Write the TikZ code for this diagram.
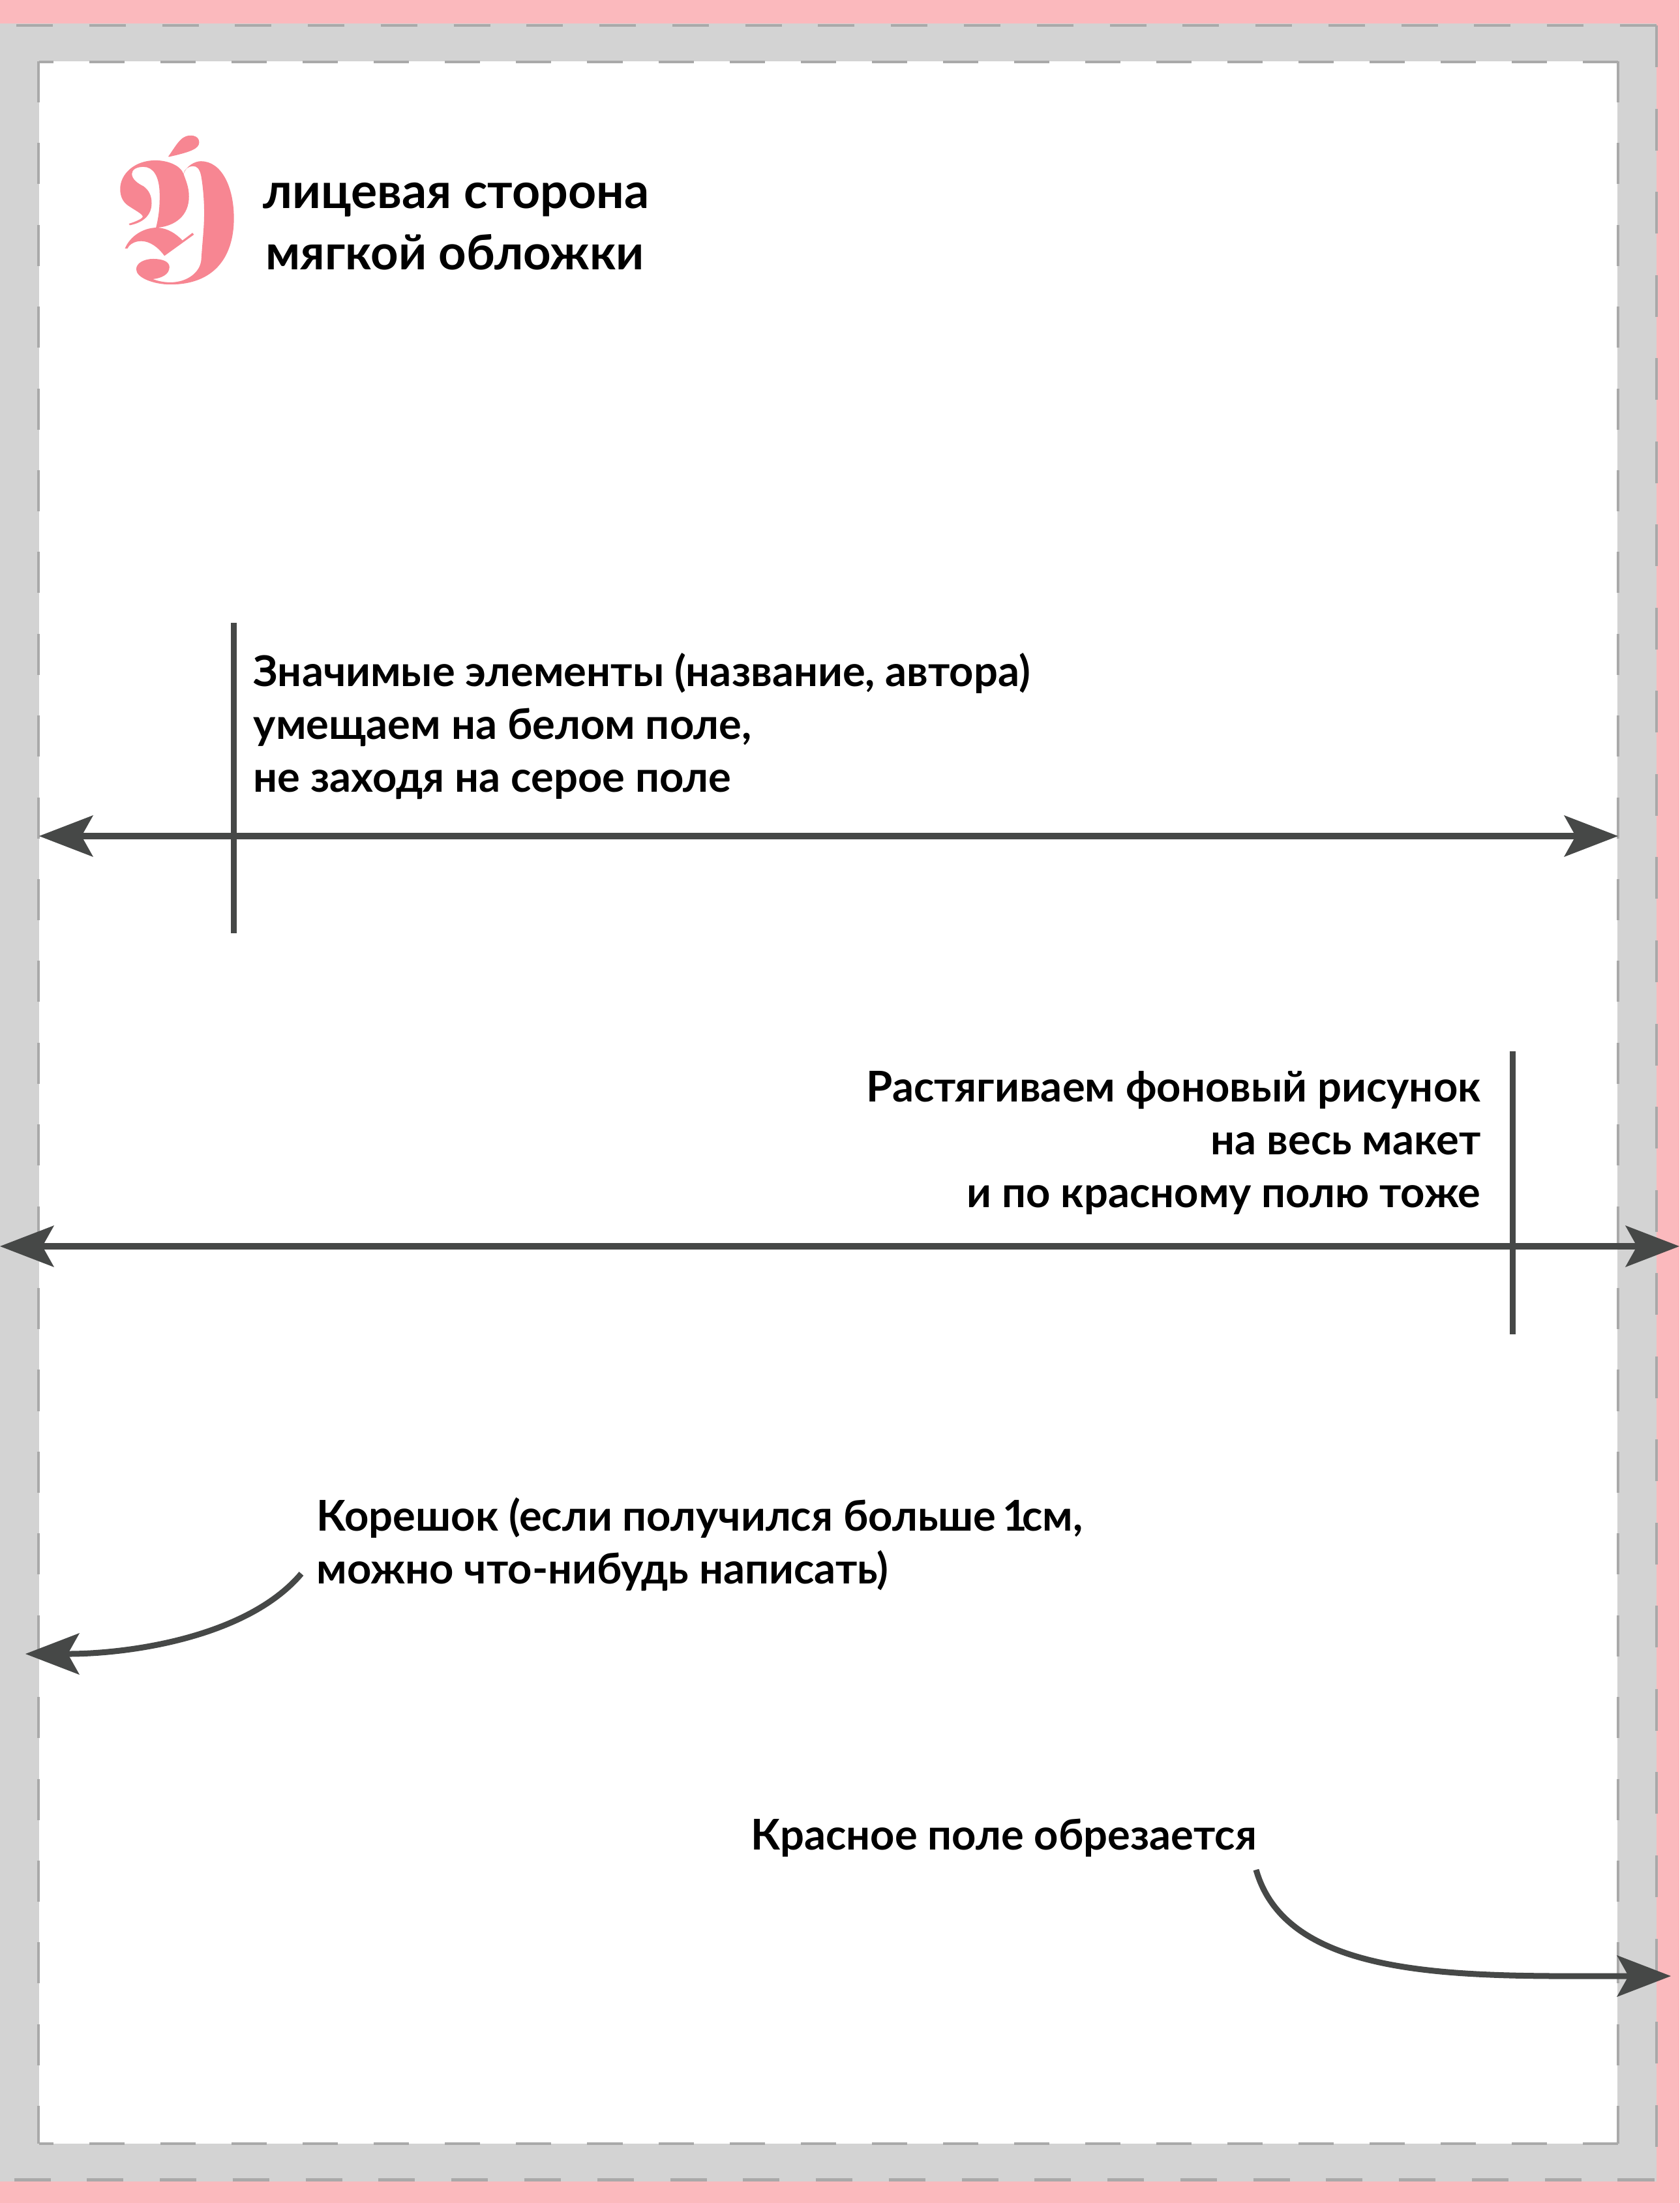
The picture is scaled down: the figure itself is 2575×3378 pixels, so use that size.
\documentclass[tikz,border=0pt]{standalone}
\usepackage{fontspec}
\setmainfont{Lato}
\usetikzlibrary{arrows.meta}
\definecolor{bleedpink}{HTML}{FBB9BD}
\definecolor{safegrey}{HTML}{D3D3D3}
\definecolor{dashgrey}{HTML}{A9A9A9}
\definecolor{inkdark}{HTML}{464847}
\definecolor{logopink}{HTML}{F78692}
\tikzset{
  guide/.style={draw=dashgrey,line width=0.042cm},
  vguide/.style={guide,dash pattern=on 0.63cm off 0.6233cm},
  hguidein/.style={guide,dash pattern=on 0.54cm off 0.55cm},
  hguideout/.style={guide,dash pattern=on 0.56cm off 0.557cm},
  vguideout/.style={guide,dash pattern=on 0.64cm off 0.6347cm},
  dimline/.style={draw=inkdark,line width=0.095cm},
  bigtip/.tip={Stealth[length=0.83cm,width=0.64cm,inset=0.18cm,sep=0pt,line width=0pt,fill=inkdark]},
  both/.style={dimline,bigtip-bigtip},
  oneway/.style={dimline,line width=0.09cm,-bigtip},
  tick/.style={draw=inkdark,line width=0.09cm},
  note/.style={inner sep=0pt,font=\fontsize{18.5}{18.5}\selectfont\bfseries,text=black,align=left},
  heading/.style={note,font=\fontsize{21.4}{21.4}\selectfont\bfseries},
  noter/.style={note,align=right},
}
\begin{document}
\begin{tikzpicture}[x=0.01cm,y=-0.01cm]
\useasboundingbox (0,0) rectangle (2575,3378);
\fill[bleedpink] (0,0) rectangle (2575,3378);
\fill[safegrey] (0,36) rectangle (2540,3345);
\fill[white] (60,94) rectangle (2480,3287);
% dashed guides
\draw[hguidein,dash phase=0.32cm] (60,95) -- (2481,95);
\draw[hguidein,dash phase=0.32cm] (60,3287) -- (2481,3287);
\draw[vguide] (59,94) -- (59,3287);
\draw[vguide] (2481,94) -- (2481,3287);
\draw[hguideout,dash phase=0.867cm] (0,39) -- (2540,39);
\draw[hguideout,dash phase=0.901cm] (0,3342.5) -- (2540,3342.5);
\draw[vguideout] (2539.7,39) -- (2539.7,3345);
% logo
\begin{scope}[shift={(140,170)},x=0.003333cm,y=-0.003333cm]
\fill[logopink] (355,210) .. controls (380,175) and (405,130) .. (430,120)
  .. controls (450,108) and (497,110) .. (497,145)
  .. controls (497,175) and (455,190) .. (357,212) -- cycle;
\fill[logopink] (425,290) .. controls (410,250) and (350,228) .. (295,228)
  .. controls (200,228) and (133,290) .. (133,360)
  .. controls (133,400) and (150,425) .. (175,440)
  .. controls (205,460) and (235,475) .. (237,487)
  .. controls (237,497) and (200,512) .. (173,520)
  -- (177,527)
  .. controls (240,515) and (278,480) .. (278,425)
  .. controls (278,390) and (265,365) .. (240,347)
  .. controls (215,335) and (187,315) .. (187,290)
  .. controls (187,270) and (210,258) .. (240,258)
  .. controls (285,258) and (315,300) .. (315,390)
  .. controls (315,450) and (310,490) .. (298,538)
  .. controls (240,540) and (180,575) .. (155,634)
  -- (167,634)
  .. controls (175,615) and (200,600) .. (230,600)
  .. controls (270,600) and (310,630) .. (337,668)
  -- (473,570) -- (466,562) -- (420,597)
  .. controls (390,565) and (350,540) .. (305,538)
  .. controls (390,530) and (450,480) .. (450,395)
  .. controls (450,350) and (435,320) .. (425,290)
  .. controls (440,250) and (480,232) .. (505,232)
  .. controls (600,232) and (657,350) .. (657,495)
  .. controls (657,680) and (560,800) .. (365,800)
  .. controls (290,800) and (207,770) .. (207,730)
  .. controls (207,700) and (245,682) .. (285,682)
  .. controls (330,682) and (360,695) .. (360,720)
  .. controls (360,755) and (320,772) .. (283,775)
  .. controls (310,785) and (335,790) .. (365,790)
  .. controls (440,790) and (505,745) .. (507,680)
  .. controls (512,600) and (520,540) .. (520,470)
  .. controls (520,400) and (512,330) .. (505,295)
  .. controls (498,265) and (485,255) .. (470,255)
  .. controls (445,255) and (428,270) .. (425,290) -- cycle;
\end{scope}
% texts
\node[heading,anchor=base west] (tA) at (403,319) {лицевая сторона};
\node[note,font=\fontsize{21.1}{21.1}\selectfont\bfseries,anchor=base west] (tB) at (407,413) {мягкой обложки};
\node[note,anchor=base west] (tC) at (388,1052) {Значимые элементы (название, автора)};
\node[note,anchor=base west] (tD) at (388,1133) {умещаем на белом поле,};
\node[note,anchor=base west] (tE) at (388,1214) {не заходя на серое поле};
\node[noter,anchor=base east] (tF) at (2271,1689) {Растягиваем фоновый рисунок};
\node[noter,anchor=base east] (tG) at (2271,1770) {на весь макет};
\node[noter,anchor=base east] (tH) at (2271,1851) {и по красному полю тоже};
\node[note,anchor=base west] (tI) at (485,2347) {Корешок (если получился больше \kern-0.06cm 1\kern-0.08cm см,};
\node[note,anchor=base west] (tJ) at (485,2428) {можно что-нибудь написать)};
\node[note,anchor=base west] (tK) at (1151,2836) {Красное поле обрезается};
% connector ends
\coordinate (wl) at (60,1282);
\coordinate (wr) at (2481,1282);
\coordinate (gl) at (0,1911);
\coordinate (gr) at (2575,1911);
\coordinate (t1a) at (358,955);
\coordinate (t1b) at (358,1431);
\coordinate (t2a) at (2319,1612);
\coordinate (t2b) at (2319,2046);
\coordinate (c1a) at (462,2413);
\coordinate (c1b) at (39,2536);
\coordinate (c2a) at (1926,2867);
\coordinate (c2b) at (2562,3030);
\draw[tick] (t1a) -- (t1b);
\draw[tick] (t2a) -- (t2b);
\draw[both] (wl) -- (wr);
\draw[both] (gl) -- (gr);
\draw[oneway] (c1a) .. controls (380,2510) and (200,2536) .. (c1b);
\draw[oneway] (c2a) .. controls (1975,3040) and (2250,3030) .. (c2b);
\end{tikzpicture}
\end{document}
